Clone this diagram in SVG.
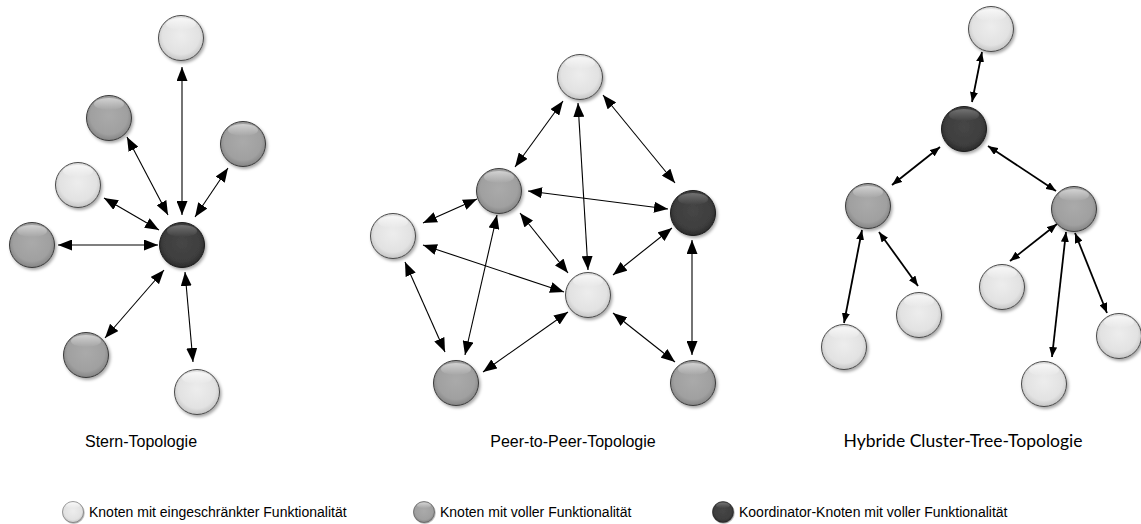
<svg xmlns="http://www.w3.org/2000/svg" xmlns:xlink="http://www.w3.org/1999/xlink" width="1141" height="524" viewBox="0 0 1141 524">
<style>
.lk{stroke:#000;stroke-width:1.1;fill:none;marker-start:url(#ah);marker-end:url(#ah)}
.lt{stroke:#000;stroke-width:1.8;fill:none;marker-start:url(#at);marker-end:url(#at)}
.ttl{font-family:"Liberation Sans",Arial,sans-serif;font-size:16px;fill:#000}
.ttl2{font-family:Lato,"Open Sans",sans-serif;font-size:17.5px;fill:#000}
.leg{font-family:"Liberation Sans",Arial,sans-serif;font-size:14px;fill:#000}
</style>
<defs>
<marker id="ah" viewBox="0 0 14 11" refX="14" refY="5.5" markerWidth="14" markerHeight="11" orient="auto-start-reverse" markerUnits="userSpaceOnUse"><path d="M0,0 L14,5.5 L0,11 z" fill="#000"/></marker>
<marker id="at" viewBox="0 0 10 8" refX="10" refY="4" markerWidth="10" markerHeight="8" orient="auto-start-reverse" markerUnits="userSpaceOnUse"><path d="M0,0 L10,4 L0,8 z" fill="#000"/></marker>
<radialGradient id="gL" cx="50%" cy="45%" r="55%"><stop offset="0" stop-color="#ededed"/><stop offset="0.75" stop-color="#e2e2e2"/><stop offset="1" stop-color="#c4c4c4"/></radialGradient>
<radialGradient id="gM" cx="50%" cy="45%" r="55%"><stop offset="0" stop-color="#aaaaaa"/><stop offset="0.75" stop-color="#a0a0a0"/><stop offset="1" stop-color="#848484"/></radialGradient>
<radialGradient id="gD" cx="50%" cy="45%" r="55%"><stop offset="0" stop-color="#464646"/><stop offset="0.75" stop-color="#3e3e3e"/><stop offset="1" stop-color="#2a2a2a"/></radialGradient>
<linearGradient id="hl" x1="0" y1="0" x2="0" y2="1"><stop offset="0" stop-color="#fff" stop-opacity="0.75"/><stop offset="1" stop-color="#fff" stop-opacity="0"/></linearGradient>
<filter id="sh" x="-30%" y="-30%" width="170%" height="170%"><feDropShadow dx="1.5" dy="2" stdDeviation="1.5" flood-color="#000" flood-opacity="0.35"/></filter>
<g id="nL"><circle r="22.5" fill="url(#gL)" stroke="#4a4a4a" stroke-width="1" filter="url(#sh)"/><ellipse cy="-14" rx="15" ry="6" fill="url(#hl)"/></g>
<g id="nM"><circle r="22.5" fill="url(#gM)" stroke="#3a3a3a" stroke-width="1" filter="url(#sh)"/><ellipse cy="-14" rx="15" ry="6" fill="url(#hl)" opacity="0.7"/></g>
<g id="nD"><circle r="22.5" fill="url(#gD)" stroke="#1a1a1a" stroke-width="1" filter="url(#sh)"/><ellipse cy="-14" rx="15" ry="6" fill="url(#hl)" opacity="0.35"/></g>
</defs>
<rect width="1141" height="524" fill="#fff"/>

<g id="connectors">
<!-- star -->
<line class="lk" x1="182" y1="67" x2="182" y2="215"/>
<line class="lk" x1="127" y1="137" x2="168" y2="215"/>
<line class="lk" x1="228" y1="168" x2="195" y2="217"/>
<line class="lk" x1="104" y1="198" x2="159" y2="230"/>
<line class="lk" x1="58" y1="245" x2="158" y2="245"/>
<line class="lk" x1="105" y1="338" x2="164" y2="270"/>
<line class="lk" x1="185" y1="272" x2="193" y2="362"/>
<!-- p2p -->
<line class="lk" x1="563" y1="101" x2="515" y2="167"/>
<line class="lk" x1="578" y1="103" x2="588" y2="270"/>
<line class="lk" x1="603" y1="95" x2="675" y2="183"/>
<line class="lk" x1="528" y1="191" x2="668" y2="209"/>
<line class="lk" x1="423" y1="223" x2="477" y2="199"/>
<line class="lk" x1="520" y1="213" x2="568" y2="273"/>
<line class="lk" x1="423" y1="245" x2="564" y2="292"/>
<line class="lk" x1="672" y1="228" x2="613" y2="275"/>
<line class="lk" x1="405" y1="262" x2="445" y2="352"/>
<line class="lk" x1="497" y1="215" x2="465" y2="355"/>
<line class="lk" x1="568" y1="312" x2="483" y2="372"/>
<line class="lk" x1="613" y1="313" x2="675" y2="362"/>
<line class="lk" x1="692" y1="240" x2="692" y2="355"/>
<!-- tree -->
<line class="lt" x1="982" y1="52" x2="972" y2="102"/>
<line class="lt" x1="940" y1="147" x2="892" y2="185"/>
<line class="lt" x1="988" y1="146" x2="1056" y2="191"/>
<line class="lt" x1="862" y1="230" x2="844" y2="323"/>
<line class="lt" x1="879" y1="232" x2="918" y2="286"/>
<line class="lt" x1="1057" y1="224" x2="1010" y2="261"/>
<line class="lt" x1="1066" y1="232" x2="1052" y2="357"/>
<line class="lt" x1="1075" y1="233" x2="1107" y2="313"/>
</g>

<!-- star nodes -->
<g id="s-top"><use href="#nL" x="181" y="38"/></g>
<g id="s-center"><use href="#nD" x="182" y="245"/></g>
<g id="s-ul"><use href="#nM" x="109" y="118"/></g>
<g id="s-r"><use href="#nM" x="243" y="144"/></g>
<g id="s-l"><use href="#nL" x="78" y="185"/></g>
<g id="s-fl"><use href="#nM" x="32" y="245"/></g>
<g id="s-ll"><use href="#nM" x="86" y="355"/></g>
<g id="s-b"><use href="#nL" x="197" y="392"/></g>

<!-- p2p nodes -->
<g id="p-top"><use href="#nL" x="580" y="77"/></g>
<g id="p-mid"><use href="#nM" x="499" y="191"/></g>
<g id="p-dark"><use href="#nD" x="693" y="213"/></g>
<g id="p-left"><use href="#nL" x="393" y="236"/></g>
<g id="p-center"><use href="#nL" x="588" y="295"/></g>
<g id="p-bl"><use href="#nM" x="456" y="383"/></g>
<g id="p-br"><use href="#nM" x="693" y="383"/></g>

<!-- tree nodes -->
<g id="t-top"><use href="#nL" x="991" y="29"/></g>
<g id="t-root"><use href="#nD" x="964" y="129"/></g>
<g id="t-lg"><use href="#nM" x="868" y="206"/></g>
<g id="t-rg"><use href="#nM" x="1074" y="209"/></g>
<g id="t-rc1"><use href="#nL" x="1002" y="287"/></g>
<g id="t-lc2"><use href="#nL" x="919" y="315"/></g>
<g id="t-lc1"><use href="#nL" x="844" y="347"/></g>
<g id="t-rcf"><use href="#nL" x="1119" y="336"/></g>
<g id="t-rcb"><use href="#nL" x="1044" y="384"/></g>

<g id="titles">
<text class="ttl" x="141" y="447" text-anchor="middle">Stern-Topologie</text>
<text class="ttl" x="573" y="447" text-anchor="middle">Peer-to-Peer-Topologie</text>
<text class="ttl2" x="963" y="447" text-anchor="middle">Hybride Cluster-Tree-Topologie</text>
</g>

<g id="legend">
<g transform="translate(73,512) scale(0.47)"><use href="#nL"/></g>
<text class="leg" x="89" y="517">Knoten mit eingeschränkter Funktionalität</text>
<g transform="translate(424,512) scale(0.47)"><use href="#nM"/></g>
<text class="leg" x="440" y="517">Knoten mit voller Funktionalität</text>
<g transform="translate(723,512) scale(0.47)"><use href="#nD"/></g>
<text class="leg" x="739" y="517">Koordinator-Knoten mit voller Funktionalität</text>
</g>
</svg>
